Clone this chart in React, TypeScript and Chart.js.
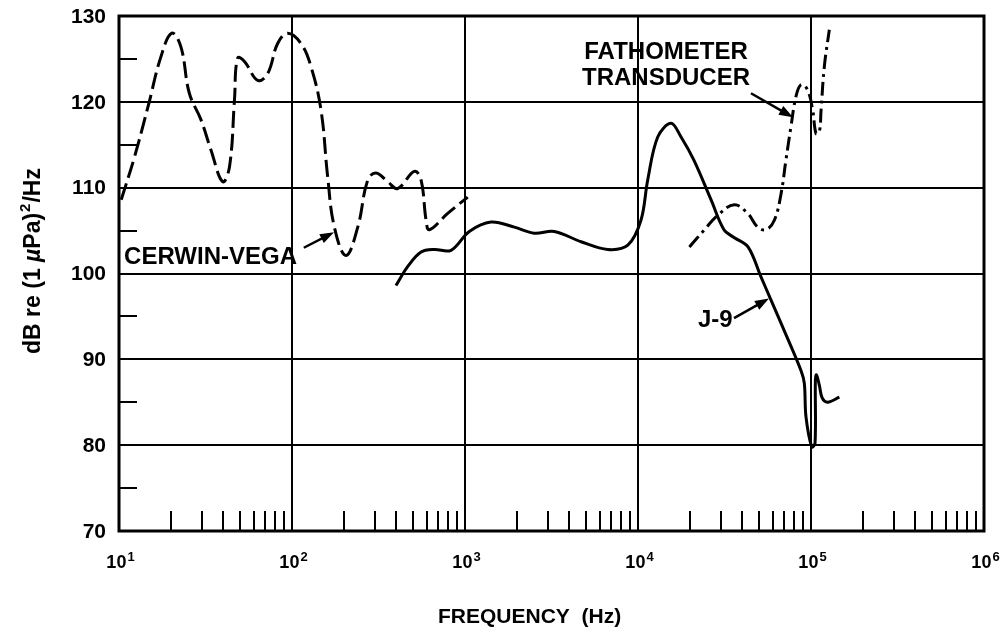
import React, { useEffect, useRef } from "react";
import { Chart, registerables } from "chart.js";

Chart.register(...registerables);

// ---- data (frequency in Hz, level in dB) ----
const cerwinFreq = [10.3, 12.3, 14.7, 17.5, 20.2, 22.8, 25.5, 29.8, 34.0, 39.7, 43.5, 46.5, 48.5, 53.1, 63.4, 72.4, 82.6, 94.4, 112.7, 128.8, 147.2, 160.7, 175.8, 205.1, 239.9, 274.2, 306.2, 357.3, 408.3, 509.3, 557.2, 595.7, 622.3, 794.3, 1037.5];
const cerwinDb = [108.6, 113.6, 119.4, 125.3, 128.0, 126.4, 121.0, 117.9, 114.4, 110.7, 112.4, 120.2, 125.1, 124.7, 122.5, 123.3, 126.8, 128.0, 126.8, 124.1, 119.0, 111.3, 105.4, 102.1, 105.4, 110.9, 111.7, 110.7, 109.9, 111.9, 110.9, 106.2, 105.1, 107.0, 108.9];

const j9Freq = [399, 466, 557, 665, 830, 1059, 1413, 1928, 2518, 3281, 4688, 6683, 8730, 10400, 11380, 13000, 15520, 17740, 21040, 26420, 31410, 35890, 43250, 51400, 58750, 69820, 87500, 91500, 93550, 101000, 105500, 106000, 107500, 111700, 116000, 124700, 145900];
const j9Db = [98.6, 100.8, 102.5, 102.8, 102.7, 104.9, 106.0, 105.4, 104.7, 104.9, 103.7, 102.8, 103.3, 106.2, 110.9, 115.9, 117.5, 115.9, 113.2, 108.6, 105.1, 104.2, 103.1, 99.6, 96.9, 93.4, 88.7, 87.2, 83.3, 79.8, 80.2, 87.5, 88.2, 87.0, 85.5, 85.0, 85.6];

const fathoFreq = [19820, 24210, 28910, 36060, 43050, 49200, 54950, 61380, 67140, 71610, 76560, 81850, 87500, 95500, 102300, 106900, 111700, 114300, 119400, 127600];
const fathoDb = [103.1, 105.1, 106.8, 108.0, 107.0, 105.4, 105.1, 106.2, 109.3, 113.2, 117.1, 120.6, 122.0, 121.4, 119.0, 116.3, 116.5, 119.0, 124.1, 128.4];

const xDecades = [10, 100, 1000, 10000, 100000, 1000000];
const xExponents = ["1", "2", "3", "4", "5", "6"];
const yTicks = [70, 80, 90, 100, 110, 120, 130];
const yMinorTicks = [75, 85, 95, 105, 115, 125];

const xTitle = "FREQUENCY  (Hz)";

const FONT = '"Liberation Sans", Arial, Helvetica, sans-serif';

function pts(xs: number[], ys: number[]) {
  return xs.map((x, i) => ({ x, y: ys[i] }));
}

const decorPlugin = {
  id: "decor",
  beforeDatasetsDraw(chart: any) {
    const { ctx, chartArea } = chart;
    const xs = chart.scales.x;
    const ys = chart.scales.y;
    ctx.save();
    ctx.strokeStyle = "#000";
    ctx.lineWidth = 2;
    // minor x ticks
    for (let d = 0; d < xDecades.length - 1; d++) {
      for (let m = 2; m <= 9; m++) {
        const px = Math.round(xs.getPixelForValue(xDecades[d] * m));
        ctx.beginPath();
        ctx.moveTo(px, chartArea.bottom);
        ctx.lineTo(px, chartArea.bottom - 20);
        ctx.stroke();
      }
    }
    // minor y ticks
    for (const v of yMinorTicks) {
      const py = Math.round(ys.getPixelForValue(v));
      ctx.beginPath();
      ctx.moveTo(chartArea.left, py);
      ctx.lineTo(chartArea.left + 18, py);
      ctx.stroke();
    }
    // frame
    ctx.lineWidth = 3;
    ctx.strokeRect(chartArea.left, chartArea.top, chartArea.right - chartArea.left, chartArea.bottom - chartArea.top);
    ctx.restore();
  },
  afterDraw(chart: any) {
    const { ctx, chartArea } = chart;
    const xs = chart.scales.x;
    const ys = chart.scales.y;
    ctx.save();
    ctx.fillStyle = "#000";
    ctx.strokeStyle = "#000";
    // y tick labels
    ctx.font = `bold 21px ${FONT}`;
    ctx.textAlign = "right";
    ctx.textBaseline = "middle";
    for (const v of yTicks) {
      ctx.fillText(String(v), 106, ys.getPixelForValue(v) + 1);
    }
    // x tick labels 10^n
    ctx.textBaseline = "alphabetic";
    ctx.textAlign = "left";
    xDecades.forEach((v, i) => {
      const cx = xs.getPixelForValue(v);
      ctx.font = `bold 18px ${FONT}`;
      const w1 = ctx.measureText("10").width;
      ctx.font = `bold 13px ${FONT}`;
      const w2 = ctx.measureText(xExponents[i]).width;
      const left = cx - (w1 + w2) / 2 + 1;
      ctx.font = `bold 18px ${FONT}`;
      ctx.fillText("10", left, chartArea.bottom + 37);
      ctx.font = `bold 13px ${FONT}`;
      ctx.fillText(xExponents[i], left + w1 + 1, chartArea.bottom + 30);
    });
    // x title
    ctx.font = `bold 21px ${FONT}`;
    ctx.textAlign = "left";
    ctx.fillText(xTitle, 438, chartArea.bottom + 92);
    // y title (rotated)
    ctx.save();
    ctx.translate(40, 261);
    ctx.rotate(-Math.PI / 2);
    const parts: [string, string, number][] = [
      ["dB re (1 ", "normal", 0],
      ["\u00b5", "italic", 0],
      ["Pa)", "normal", 0],
      ["2", "sup", 0],
      ["/Hz", "normal", 0],
    ];
    let total = 0;
    const fontFor = (k: string) =>
      k === "italic" ? `italic bold 23px ${FONT}` : k === "sup" ? `bold 15px ${FONT}` : `bold 23px ${FONT}`;
    for (const p of parts) {
      ctx.font = fontFor(p[1]);
      p[2] = ctx.measureText(p[0]).width + (p[1] === "sup" ? 2 : 0);
      total += p[2];
    }
    let cx = -total / 2;
    ctx.textAlign = "left";
    for (const p of parts) {
      ctx.font = fontFor(p[1]);
      ctx.fillText(p[0], cx + (p[1] === "sup" ? 1 : 0), p[1] === "sup" ? -10 : 0);
      cx += p[2];
    }
    ctx.restore();

    // annotations
    const P = (f: number, db: number) => [xs.getPixelForValue(f), ys.getPixelForValue(db)];
    ctx.font = `bold 24px ${FONT}`;
    ctx.textBaseline = "middle";
    ctx.textAlign = "left";
    let [tx, ty] = P(10.7, 101.9);
    ctx.fillText("CERWIN-VEGA", tx, ty);
    ctx.textAlign = "center";
    [tx, ty] = P(14520, 125.8);
    ctx.fillText("FATHOMETER", tx, ty);
    [tx, ty] = P(14520, 122.7);
    ctx.fillText("TRANSDUCER", tx, ty);
    ctx.textAlign = "left";
    [tx, ty] = P(22230, 94.5);
    ctx.fillText("J-9", tx, ty);

    const arrow = (a: number[], b: number[]) => {
      const ang = Math.atan2(b[1] - a[1], b[0] - a[0]);
      ctx.lineWidth = 2.5;
      ctx.beginPath();
      ctx.moveTo(a[0], a[1]);
      ctx.lineTo(b[0] - 8 * Math.cos(ang), b[1] - 8 * Math.sin(ang));
      ctx.stroke();
      ctx.beginPath();
      ctx.moveTo(b[0], b[1]);
      ctx.lineTo(b[0] - 14 * Math.cos(ang) + 5 * Math.sin(ang), b[1] - 14 * Math.sin(ang) - 5 * Math.cos(ang));
      ctx.lineTo(b[0] - 14 * Math.cos(ang) - 5 * Math.sin(ang), b[1] - 14 * Math.sin(ang) + 5 * Math.cos(ang));
      ctx.closePath();
      ctx.fill();
    };
    arrow(P(117, 103.0), P(175, 104.8));
    arrow(P(44980, 121.0), P(78700, 118.2));
    arrow(P(35890, 94.8), P(57150, 97.1));
    ctx.restore();
  },
};

export default function App() {
  const ref = useRef<HTMLCanvasElement | null>(null);
  useEffect(() => {
    document.body.style.margin = "0";
    const canvas = ref.current;
    if (!canvas) return;
    const chart = new Chart(canvas, {
      type: "scatter",
      data: {
        datasets: [
          {
            label: "CERWIN-VEGA",
            data: pts(cerwinFreq, cerwinDb),
            showLine: true,
            borderColor: "#000",
            borderWidth: 3,
            borderDash: [17, 6],
            pointRadius: 0,
            tension: 0.4,
          },
          {
            label: "J-9",
            data: pts(j9Freq, j9Db),
            showLine: true,
            borderColor: "#000",
            borderWidth: 3,
            pointRadius: 0,
            tension: 0.35,
          },
          {
            label: "FATHOMETER TRANSDUCER",
            data: pts(fathoFreq, fathoDb),
            showLine: true,
            borderColor: "#000",
            borderWidth: 3,
            borderDash: [14, 5, 3, 5],
            pointRadius: 0,
            tension: 0.4,
          },
        ],
      },
      options: {
        animation: false,
        responsive: true,
        maintainAspectRatio: false,
        layout: { padding: { left: 119, right: 17, top: 16, bottom: 101 } },
        plugins: { legend: { display: false }, tooltip: { enabled: false } },
        scales: {
          x: {
            type: "logarithmic",
            min: 10,
            max: 1000000,
            afterBuildTicks: (scale: any) => {
              scale.ticks = xDecades.map((v) => ({ value: v }));
            },
            ticks: { display: false },
            grid: { color: "#000", lineWidth: 2, drawTicks: false },
            border: { display: false },
          },
          y: {
            type: "linear",
            min: 70,
            max: 130,
            afterBuildTicks: (scale: any) => {
              scale.ticks = yTicks.map((v) => ({ value: v }));
            },
            ticks: { display: false },
            grid: { color: "#000", lineWidth: 2, drawTicks: false },
            border: { display: false },
          },
        },
      },
      plugins: [decorPlugin],
    });
    return () => chart.destroy();
  }, []);
  return (
    <div style={{ position: "relative", width: "1001px", height: "632px", background: "#fff" }}>
      <canvas ref={ref} />
    </div>
  );
}
